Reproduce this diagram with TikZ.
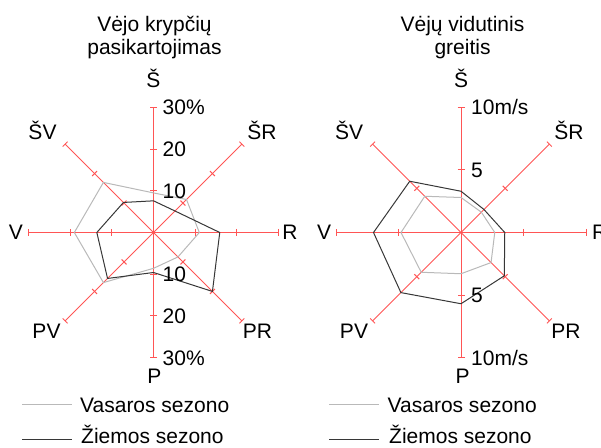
\documentclass[tikz,border=0pt]{standalone}
\usepackage{fontspec}
\setmainfont{Liberation Sans}
\usepackage{tikz}
\usetikzlibrary{calc,positioning}

\definecolor{axisred}{RGB}{255,85,85}
\definecolor{summergray}{RGB}{185,185,185}
\definecolor{wintergray}{RGB}{55,55,55}

\begin{document}
\begin{tikzpicture}[x=1pt, y=1pt, every node/.style={font=\fontsize{21}{24}\selectfont, inner sep=0pt}]
    \useasboundingbox (0,0) rectangle (601,447);
    \tikzset{AxisStyle/.style = {draw=axisred, line width=1pt},
      SummerStyle/.style = {draw=summergray, line width=1pt, line join=round},
      WinterStyle/.style = {draw=wintergray, line width=1pt, line join=round},
      NumStyle/.style = {anchor=west, text height=15pt, text depth=0pt},
      DirStyle/.style = {anchor=base}}
    % centres of the two roses
    \coordinate (L) at (153.5,214.5);
    \coordinate (R) at (461,214.5);
    % axes with ticks
    \foreach \a in {0,45,...,315} {
      \coordinate (L-\a) at ($(L)+(\a:125)$);
      \coordinate (R-\a) at ($(R)+(\a:125)$);
      \draw[AxisStyle] (L) -- (L-\a);
      \draw[AxisStyle] (R) -- (R-\a);
      \foreach \r in {41.67,83.33,125}
        \draw[AxisStyle] ($(L)+({\a}:\r)+({\a+90}:3.5)$) -- ($(L)+({\a}:\r)+({\a-90}:3.5)$);
      \foreach \r in {62.5,125}
        \draw[AxisStyle] ($(R)+({\a}:\r)+({\a+90}:3.5)$) -- ($(R)+({\a}:\r)+({\a-90}:3.5)$);
    }
    % left: Vejo krypciu pasikartojimas (1% = 4.1667)
    \foreach \a/\v [count=\i] in {90/9.5,45/11.2,0/11,-45/8.3,-90/8.6,-135/17,180/19,135/17}
      \coordinate (LS\i) at ($(L)+({\a}:{\v*4.1667})$);
    \foreach \a/\v [count=\i] in {90/7.6,45/7.3,0/15.9,-45/20,-90/9.6,-135/15.6,180/13.6,135/10.2}
      \coordinate (LW\i) at ($(L)+({\a}:{\v*4.1667})$);
    \draw[SummerStyle] (LS1) -- (LS2) -- (LS3) -- (LS4) -- (LS5) -- (LS6) -- (LS7) -- (LS8) -- cycle;
    \draw[WinterStyle] (LW1) -- (LW2) -- (LW3) -- (LW4) -- (LW5) -- (LW6) -- (LW7) -- (LW8) -- cycle;
    % right: Veju vidutinis greitis (1 m/s = 12.5)
    \foreach \a/\v [count=\i] in {90/2.8,45/2.3,0/2.7,-45/3.4,-90/3.3,-135/4.5,180/4.8,135/4.1}
      \coordinate (RS\i) at ($(R)+({\a}:{\v*12.5})$);
    \foreach \a/\v [count=\i] in {90/3.3,45/2.6,0/3.5,-45/4.9,-90/5.7,-135/6.8,180/7.0,135/5.8}
      \coordinate (RW\i) at ($(R)+({\a}:{\v*12.5})$);
    \draw[SummerStyle] (RS1) -- (RS2) -- (RS3) -- (RS4) -- (RS5) -- (RS6) -- (RS7) -- (RS8) -- cycle;
    \draw[WinterStyle] (RW1) -- (RW2) -- (RW3) -- (RW4) -- (RW5) -- (RW6) -- (RW7) -- (RW8) -- cycle;
    % scale numbers
    \node[NumStyle] (ln10) at ($(L)+(9,41.67)$) {10};
    \node[NumStyle] (ln20) at ($(L)+(9,83.33)$) {20};
    \node[NumStyle] (ln30) at ($(L)+(9,125)$) {30\%};
    \node[NumStyle] (ls10) at ($(L)+(9,-41.67)$) {10};
    \node[NumStyle] (ls20) at ($(L)+(9,-83.33)$) {20};
    \node[NumStyle] (ls30) at ($(L)+(9,-125)$) {30\%};
    \node[NumStyle] (rn5) at ($(R)+(10,62.5)$) {5};
    \node[NumStyle] (rn10) at ($(R)+(10,125)$) {10m/s};
    \node[NumStyle] (rs5) at ($(R)+(10,-62.5)$) {5};
    \node[NumStyle] (rs10) at ($(R)+(10,-125)$) {10m/s};
    % directions
    \node[DirStyle] (lS) at (153.5,359) {Š};
    \node[DirStyle] (lSR) at (262,307) {ŠR};
    \node[DirStyle] (lR) at (290,207) {R};
    \node[DirStyle] (lPR) at (257.5,109) {PR};
    \node[DirStyle] (lP) at (154.5,64) {P};
    \node[DirStyle] (lPV) at (46.5,109) {PV};
    \node[DirStyle] (lV) at (16,207) {V};
    \node[DirStyle] (lSV) at (42.5,307) {ŠV};
    \node[DirStyle] (rS) at (461,359) {Š};
    \node[DirStyle] (rSR) at (569,307) {ŠR};
    \node[DirStyle, anchor=base west] (rR) at (592,207) {R};
    \node[DirStyle] (rPR) at (566,109) {PR};
    \node[DirStyle] (rP) at (462.5,64) {P};
    \node[DirStyle] (rPV) at (354,109) {PV};
    \node[DirStyle] (rV) at (324,207) {V};
    \node[DirStyle] (rSV) at (349,307) {ŠV};
    % titles
    \node[DirStyle] (lt1) at (154.5,415) {Vėjo krypčių};
    \node[DirStyle] (lt2) at (154.5,392) {pasikartojimas};
    \node[DirStyle] (rt1) at (462.5,415) {Vėjų vidutinis};
    \node[DirStyle] (rt2) at (462.5,392) {greitis};
    % legends
    \coordinate (lsA) at (22,43);  \coordinate (lsB) at (72,43);
    \coordinate (lwA) at (22,8);   \coordinate (lwB) at (72,8);
    \coordinate (rsA) at (329,43); \coordinate (rsB) at (379,43);
    \coordinate (rwA) at (329,8);  \coordinate (rwB) at (379,8);
    \draw[SummerStyle] (lsA) -- (lsB);
    \draw[WinterStyle] (lwA) -- (lwB);
    \draw[SummerStyle] (rsA) -- (rsB);
    \draw[WinterStyle] (rwA) -- (rwB);
    \node[anchor=base west] (lsT) at (80,35) {Vasaros sezono};
    \node[anchor=base west] (lwT) at (81,3.7) {Žiemos sezono};
    \node[anchor=base west] (rsT) at (387.5,35) {Vasaros sezono};
    \node[anchor=base west] (rwT) at (389,3.7) {Žiemos sezono};
  \end{tikzpicture}
\end{document}
